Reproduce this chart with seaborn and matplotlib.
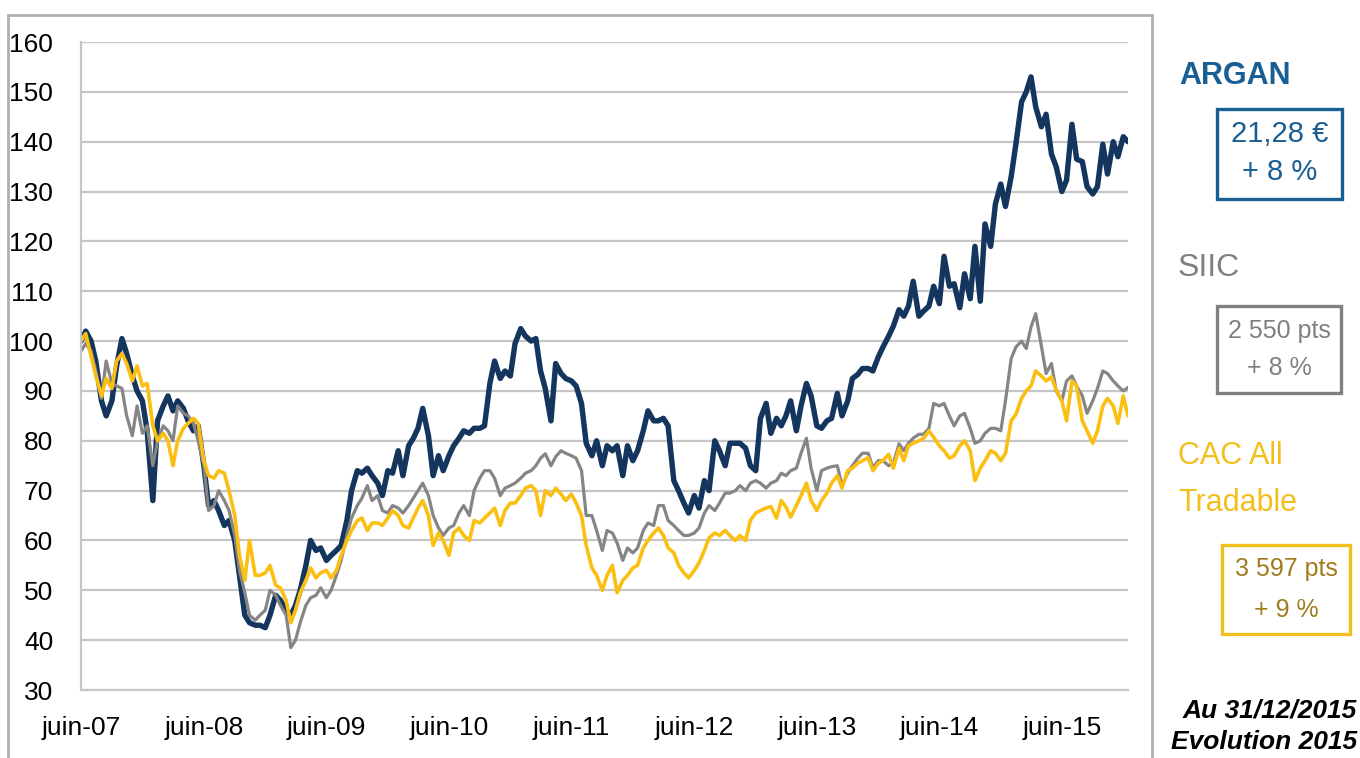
import numpy as np
import pandas as pd
import matplotlib.pyplot as plt
import seaborn as sns
from matplotlib.patches import Rectangle

# semi-monthly points, June 2007 -> December 2015 (base 100 in June 2007)
dates = pd.date_range("2007-06-01", periods=206, freq="SMS")

argan = [100, 102, 100, 96, 88, 85, 88, 95, 100.5, 97.5, 93, 90, 88, 82, 68, 84, 87, 89, 86, 88,
         86.5, 84, 82, 83, 75, 67, 68, 66, 63, 64, 60, 53, 45, 43.5, 43, 43, 42.5, 45, 49, 48,
         46, 45, 47, 50, 55, 60, 58, 58.5, 56, 57, 58, 59, 64, 70, 74, 73.5, 74.5, 73, 71.5, 69,
         74, 73.5, 78, 73, 79, 80.5, 82.5, 86.5, 81, 73, 77, 74, 77, 79, 80.5, 82, 81.5, 82.5, 82.5, 83,
         91.5, 96, 92.5, 94, 93, 99.5, 102.5, 101, 100, 100.5, 94, 90.5, 84, 95.5, 93.5, 92.5, 92, 91, 87.5, 79.5,
         77, 80, 75, 79, 78, 79, 73, 79, 76, 78, 82, 86, 84, 84, 84.5, 83, 72, 70, 67.5, 65.5,
         69, 66.5, 72, 70, 80, 78, 75, 79.5, 79.5, 79.5, 78.5, 75, 74, 84.5, 87.5, 81.5, 84.5, 83, 85, 88,
         82, 87, 91.5, 89, 83, 82.5, 84, 84.5, 89.5, 85, 88, 92.5, 93.3, 94.5, 94.5, 94, 96.8, 98.8, 101, 103,
         106.3, 105, 107, 112, 105, 106, 107, 111, 107.5, 117, 111, 111.5, 106.7, 113.5, 108.5, 119, 108, 123.5, 119, 127.5,
         131.5, 127, 133, 139.5, 148, 150, 153, 147, 143, 145.5, 137.5, 135, 130, 132.3, 143.5, 136.5, 136, 131, 129.5, 131,
         139.5, 133.5, 140, 137, 141, 140]

siic = [98, 99.5, 98, 94, 88.5, 96, 91.5, 91, 90.5, 85, 81, 87, 81.5, 83, 75, 80, 83, 82, 80, 87,
        85.5, 85, 83.5, 80, 75, 66, 67, 70, 68, 66, 61, 54, 49.5, 45, 44, 45, 46, 50, 49, 47,
        45, 38.5, 40, 43.5, 47, 48.5, 49, 50.5, 48.5, 50, 53, 56, 61, 64.5, 67, 68.5, 71, 68, 69, 66,
        65.5, 67, 66.5, 65.5, 67, 68.5, 70, 71.5, 69, 65, 62.5, 61, 62.5, 63, 65.5, 67, 65, 70, 72.5, 74,
        74, 72.5, 69, 70.5, 71, 71.5, 72.5, 73.5, 74, 75, 76.5, 77.4, 75, 76.8, 78, 77.5, 77, 76.5, 74, 65,
        65, 62, 58, 62, 61.5, 59.5, 56, 58.5, 57.5, 58.5, 62, 63.5, 63, 67, 67, 64, 63, 62, 61, 61,
        61.5, 62.5, 65.5, 67, 66, 67.5, 69.5, 69.5, 70, 71, 70, 71.5, 72, 71.5, 70.5, 71.5, 72, 73.5, 73, 74,
        74.5, 77.5, 80.5, 74.5, 70, 74, 74.5, 74.8, 75, 71, 73.5, 75, 76.5, 77.5, 77.5, 74.6, 76, 76, 75, 75.5,
        79.4, 78, 79.5, 80.5, 81.3, 81.3, 82.5, 87.5, 87, 87.5, 85, 83, 85, 85.5, 82.5, 79.5, 80, 81.5, 82.5, 82.5,
        82, 88, 96.5, 98.8, 100, 98.5, 102.8, 105.5, 99, 93.5, 95.5, 90, 88, 92, 93, 91, 89, 85.5, 88, 90.5,
        94, 93.5, 92, 91, 90, 90.7]

cac = [100, 101.5, 97, 93, 89, 92.5, 90.5, 96, 97.5, 95.5, 92, 95, 91, 91.5, 83, 80, 81.5, 80, 75, 80,
       82.5, 83.5, 84.5, 83.5, 76, 73, 72.5, 74, 73.5, 70, 65, 57, 52, 60, 53, 53, 53.5, 55, 51, 50.5,
       48, 43.5, 46, 49.5, 52, 54.5, 52.5, 53.5, 54, 52.5, 54, 57, 60, 62, 64, 64.5, 62, 63.5, 63.5, 63,
       64.5, 66, 65, 63, 62.5, 64.5, 66.5, 68, 65, 59, 61.5, 60, 57, 61.5, 62.5, 61, 60, 64, 63.5, 64.5,
       65.5, 66.5, 63, 66, 67.5, 67.5, 69, 70.5, 71, 70, 65, 70, 69, 70.5, 69.3, 68, 69.3, 67.5, 65, 59,
       54.5, 53, 50, 53, 55, 49.5, 52, 53, 54.5, 55, 58.5, 60, 61.5, 62.5, 61, 58.5, 57.5, 55, 53.5, 52.5,
       54, 55.5, 58, 60.5, 61.5, 61, 62, 61, 60, 61, 60, 64, 65.5, 66, 66.5, 66.8, 64.5, 68, 66.7, 64.7,
       67, 69, 71.5, 68, 66, 68, 69.5, 71.5, 73, 70.5, 74, 74.5, 75.5, 76, 76.6, 74, 75.5, 76, 77.3, 74.5,
       78.5, 76, 79, 79.5, 80, 80.5, 82, 80.7, 79, 78, 76.5, 77, 79, 80, 78, 72, 74.5, 76, 78, 77.5,
       76, 77.5, 84, 85.3, 88.5, 90, 91, 94, 93, 92, 92.8, 90.2, 88, 84, 92, 91, 84, 82, 79.5, 82,
       87, 88.5, 87, 83.5, 89, 85]

tick_dates = pd.to_datetime(["2007-06-01", "2008-06-01", "2009-06-01", "2010-06-01", "2011-06-01",
                             "2012-06-01", "2013-06-01", "2014-06-01", "2015-06-01"])
tick_labels = ["juin-07", "juin-08", "juin-09", "juin-10", "juin-11",
               "juin-12", "juin-13", "juin-14", "juin-15"]
y_ticks = [30, 40, 50, 60, 70, 80, 90, 100, 110, 120, 130, 140, 150, 160]

series = [("ARGAN", argan, "#13355e", 3.9),
          ("SIIC", siic, "#858585", 2.3),
          ("CAC All Tradable", cac, "#fbbf12", 2.6)]

sns.set_style("white")
plt.rcParams["font.family"] = ["Liberation Sans", "DejaVu Sans"]

W, H = 1360, 758
fig = plt.figure(figsize=(W / 100, H / 100), dpi=100)
ax = fig.add_axes([81 / W, 1 - 690 / H, (1128 - 81) / W, (690 - 42) / H])

for name, vals, color, lw in series:
    sns.lineplot(x=dates, y=vals, color=color, lw=lw, ax=ax)

ax.set_xlim(dates[0], dates[-1])
ax.set_ylim(30, 160)
ax.set_yticks(y_ticks)
ax.set_xticks(tick_dates)
ax.set_xticklabels(tick_labels)
ax.set_xlabel("")
ax.set_ylabel("")
ax.grid(axis="y", color="#c6c6c6", lw=1.6)
ax.set_axisbelow(True)
for side in ["top", "right"]:
    ax.spines[side].set_visible(False)
for side in ["left", "bottom"]:
    ax.spines[side].set_color("#c6c6c6")
    ax.spines[side].set_linewidth(1.6)
ax.tick_params(axis="x", length=9, width=1.5, color="#c6c6c6", labelsize=19, pad=10, labelcolor="black")
ax.tick_params(axis="y", length=8, width=1.6, color="#c6c6c6", labelsize=19, pad=12, labelcolor="black")


def fx(px):
    return px / W


def fy(py):
    return 1 - py / H


def box(x0, y0, x1, y1, color):
    fig.add_artist(Rectangle((fx(x0), fy(y1)), fx(x1) - fx(x0), fy(y0) - fy(y1),
                             transform=fig.transFigure, fill=False, ec=color, lw=2.4))


# outer frame
fig.add_artist(Rectangle((fx(8), fy(800)), fx(1152) - fx(8), fy(15) - fy(800),
                         transform=fig.transFigure, fill=False, ec="#b0b0b0", lw=2, clip_on=False))

blue = "#1a5f94"
gray = "#808080"
gold = "#f3bf1c"
brown = "#a07c1e"

fig.text(fx(1179), fy(76), "ARGAN", color=blue, fontsize=22, fontweight="bold", va="center", ha="left")
box(1217, 109, 1342, 199, blue)
fig.text(fx(1280), fy(134), "21,28 €", color=blue, fontsize=21, va="center", ha="center")
fig.text(fx(1280), fy(172), "+ 8 %", color=blue, fontsize=21, va="center", ha="center")

fig.text(fx(1178), fy(268), "SIIC", color=gray, fontsize=23, va="center", ha="left")
box(1217, 306, 1341, 393, gray)
fig.text(fx(1279), fy(331), "2 550 pts", color=gray, fontsize=18, va="center", ha="center")
fig.text(fx(1279), fy(368), "+ 8 %", color=gray, fontsize=18, va="center", ha="center")

fig.text(fx(1178), fy(456), "CAC All", color=gold, fontsize=22, va="center", ha="left")
fig.text(fx(1178), fy(503), "Tradable", color=gold, fontsize=22, va="center", ha="left")
box(1222, 545, 1350, 634, gold)
fig.text(fx(1286), fy(569), "3 597 pts", color=brown, fontsize=18, va="center", ha="center")
fig.text(fx(1286), fy(610), "+ 9 %", color=brown, fontsize=18, va="center", ha="center")

fig.text(fx(1357), fy(710), "Au 31/12/2015", color="black", fontsize=19, fontweight="bold",
         style="italic", va="center", ha="right")
fig.text(fx(1357), fy(742), "Evolution 2015", color="black", fontsize=19, fontweight="bold",
         style="italic", va="center", ha="right")

fig.savefig("out.png", dpi=100)
